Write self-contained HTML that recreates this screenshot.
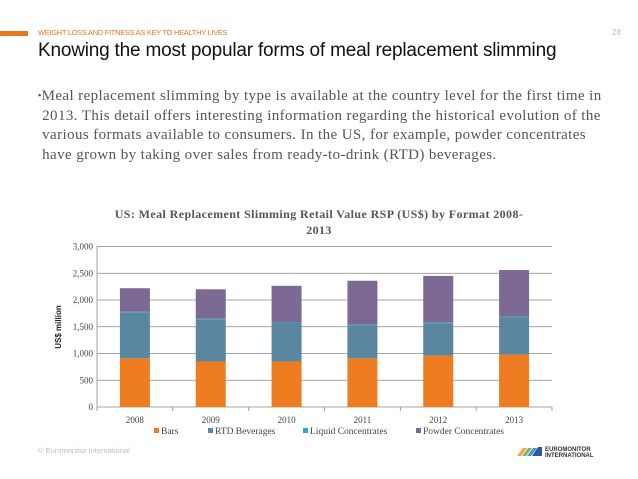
<!DOCTYPE html>
<html><head><meta charset="utf-8"><style>
body{margin:0;width:638px;height:479px;background:#fff;position:relative;overflow:hidden;font-family:"Liberation Sans",sans-serif}
.abs{position:absolute}
</style></head><body>
<div class="abs" style="left:0;top:31px;width:28px;height:5px;background:#e87722"></div>
<div class="abs" style="left:38px;top:28px;font-size:7.5px;color:#e87722;letter-spacing:-0.3px">WEIGHT LOSS AND FITNESS AS KEY TO HEALTHY LIVES</div>
<div class="abs" style="left:612px;top:28px;font-size:8px;color:#bbb">28</div>
<div class="abs" style="left:38px;top:40px;font-size:19px;color:#111;letter-spacing:-0.2px">Knowing the most popular forms of meal replacement slimming</div>
<div class="abs" style="left:38px;top:86px;width:600px;font-family:'Liberation Serif',serif;font-size:15px;letter-spacing:0.4px;line-height:19.6px;color:#555;white-space:nowrap">
<span style="font-size:9px;vertical-align:2px">▪</span>Meal replacement slimming by type is available at the country level for the first time in<br>&nbsp;2013. This detail offers interesting information regarding the historical evolution of the<br>&nbsp;various formats available to consumers. In the US, for example, powder concentrates<br>&nbsp;have grown by taking over sales from ready-to-drink (RTD) beverages.</div>
<svg class="abs" style="left:0;top:0" width="638" height="479" id="chart">
<text x="319" y="218" text-anchor="middle" font-family="Liberation Serif,serif" font-weight="bold" font-size="12" letter-spacing="0.4" fill="#555">US: Meal Replacement Slimming Retail Value RSP (US$) by Format 2008-</text>
<text x="319" y="234" text-anchor="middle" font-family="Liberation Serif,serif" font-weight="bold" font-size="12" letter-spacing="0.4" fill="#555">2013</text>
<text transform="translate(61,327) rotate(-90)" text-anchor="middle" font-size="8" font-weight="bold" fill="#222">US$ million</text>
<g id="grid"></g><g id="bars"></g><g id="axes"></g><g id="legend"></g>
</svg>
<div class="abs" style="left:38px;top:446px;font-size:7.5px;color:#bbb">© Euromonitor International</div>
<div class="abs" style="left:515px;top:444px;width:100px;height:14px">
<svg width="100" height="14"><polygon points="2,12 8,4 12,4 6,12" fill="#f4a340"/><polygon points="7,12 13,4 17,4 11,12" fill="#7cb36a"/><polygon points="12,12 18,4 22,4 16,12" fill="#5a8fc4"/><polygon points="17,12 23,3 27,3 27,12" fill="#2e5a9a"/>
<text x="30" y="7" font-size="6" font-weight="bold" fill="#333">EUROMONITOR</text><text x="30" y="13" font-size="6" font-weight="bold" fill="#333">INTERNATIONAL</text></svg></div>
<script>
const categories=["2008","2009","2010","2011","2012","2013"];
const bars=[910,850,850,910,960,980];
const rtd=[860,790,720,620,605,700];
const liquid=[10,10,10,10,10,10];
const powder=[440,550,685,820,875,870];
const yTicks=[0,500,1000,1500,2000,2500,3000];
const seriesNames=["Bars","RTD Beverages","Liquid Concentrates","Powder Concentrates"];
const colors=["#ee7d22","#5a86a0","#2ea8d0","#7c6a94"];
const NS="http://www.w3.org/2000/svg";
const X0=97,X1=552,Y0=407,Y1=246.5,YMAX=3000;
const y=v=>Y0-(v/YMAX)*(Y0-Y1);
const bw=(X1-X0)/categories.length;
const xc=i=>X0+bw*(i+0.5);
function mk(t,a,p){const e=document.createElementNS(NS,t);for(const k in a)e.setAttribute(k,a[k]);p.appendChild(e);return e;}
const grid=document.getElementById('grid'),barsG=document.getElementById('bars'),axes=document.getElementById('axes'),leg=document.getElementById('legend');
yTicks.forEach(t=>{
 const l=mk('line',{x1:X0,x2:X1,y1:y(t),y2:y(t),stroke:'#888','stroke-width':0.8},grid);
 
 
 const tx=mk('text',{x:X0-4,y:y(t)+3,'text-anchor':'end','font-size':9,'font-family':'Liberation Serif,serif',fill:'#444'},axes);
 tx.textContent=t.toLocaleString('en-US');
 
 
});
mk('line',{x1:X0,x2:X0,y1:Y1,y2:Y0,stroke:'#888','stroke-width':0.8},axes);
const series=[bars,rtd,liquid,powder];
categories.forEach((c,i)=>{
 let base=0;
 series.forEach((s,k)=>{
  const r=mk('rect',{x:xc(i)-15,width:30,y:y(base+s[i]),height:y(base)-y(base+s[i]),fill:colors[k]},barsG);
  
  
  base+=s[i];
 });
 mk('line',{x1:X0+bw*(i+1),x2:X0+bw*(i+1),y1:Y0,y2:Y0+4,stroke:'#888','stroke-width':0.8},axes);
 const t=mk('text',{x:xc(i),y:423,'text-anchor':'middle','font-size':9,'font-family':'Liberation Serif,serif',fill:'#444'},axes);
 t.textContent=c;
 
 
});
mk('line',{x1:X0,x2:X0,y1:Y0,y2:Y0+4,stroke:'#888','stroke-width':0.8},axes);
const legX=[154,208,303,416];
seriesNames.forEach((n,k)=>{
 const g=mk('g',{},leg);
 
 
 mk('rect',{x:legX[k],y:428,width:5,height:5,fill:colors[k]},g);
 const t=mk('text',{x:legX[k]+7,y:434,'font-size':9.5,'font-family':'Liberation Serif,serif',fill:'#444'},g);
 t.textContent=n;
});
</script>
</body></html>
